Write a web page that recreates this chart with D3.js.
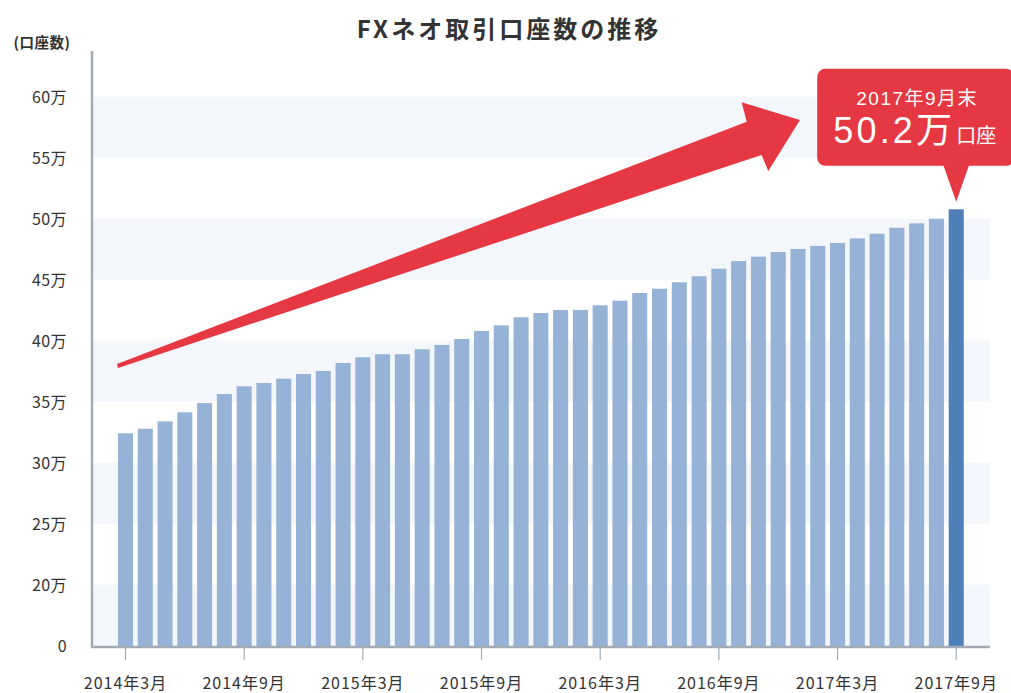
<!DOCTYPE html>
<html><head><meta charset="utf-8">
<script src="https://cdn.jsdelivr.net/npm/d3@7"></script>
<style>
body{margin:0;background:#fff;}
svg{display:block;font-family:"Noto Sans CJK JP","Noto Sans",sans-serif;}
</style></head>
<body><svg id="c" width="1011" height="693"></svg>
<script>
const categories = [
 "2014年3月","2014年4月","2014年5月","2014年6月","2014年7月","2014年8月",
 "2014年9月","2014年10月","2014年11月","2014年12月","2015年1月","2015年2月",
 "2015年3月","2015年4月","2015年5月","2015年6月","2015年7月","2015年8月",
 "2015年9月","2015年10月","2015年11月","2015年12月","2016年1月","2016年2月",
 "2016年3月","2016年4月","2016年5月","2016年6月","2016年7月","2016年8月",
 "2016年9月","2016年10月","2016年11月","2016年12月","2017年1月","2017年2月",
 "2017年3月","2017年4月","2017年5月","2017年6月","2017年7月","2017年8月",
 "2017年9月"];
// 口座数（万）
const accounts = [
 32.41,32.79,33.39,34.13,34.89,35.63,
 36.26,36.53,36.89,37.27,37.52,38.17,
 38.64,38.89,38.89,39.30,39.65,40.14,
 40.80,41.26,41.92,42.27,42.52,42.52,
 42.90,43.28,43.91,44.26,44.79,45.28,
 45.90,46.53,46.89,47.27,47.52,47.77,
 48.01,48.39,48.77,49.26,49.62,50.00,
 50.77];
const xTickLabels = ["2014年3月","2014年9月","2015年3月","2015年9月","2016年3月","2016年9月","2017年3月","2017年9月"];
// broken axis: the bottom tick (15) is labelled "0"
const yTickValues = [15,20,25,30,35,40,45,50,55,60];
const yTickLabels = ["0","20万","25万","30万","35万","40万","45万","50万","55万","60万"];
const title = "FXネオ取引口座数の推移";
const yUnit = "(口座数)";
const calloutDate = "2017年9月末";
const calloutValue = "50.2万";
const calloutUnit = "口座";
// arrow outline in (bar index, value) space
const arrowPts = [[-0.43,38.09],[31.41,57.95],[31.15,59.54],[34.10,58.09],[32.50,53.91],[32.16,55.22],[-0.38,37.77]];

const svg = d3.select("#c");
const x = d3.scaleBand().domain(categories).range([115.6, 966.1]).paddingInner(0.24).paddingOuter(0.12);
const y = d3.scaleLinear().domain([15, 60]).range([645.7, 96.7]);
const xIdx = d3.scaleLinear().domain([0, 1]).range([x(categories[0]) + x.bandwidth()/2, x(categories[0]) + x.bandwidth()/2 + x.step()]);

const plotL = 93, plotR = 990;
// bands
for (let k = 0; k < yTickValues.length - 1; k++) {
  if ((yTickValues.length - 2 - k) % 2 === 0) {
    svg.append("rect").attr("x", plotL).attr("width", plotR - plotL)
      .attr("y", y(yTickValues[k+1])).attr("height", y(yTickValues[k]) - y(yTickValues[k+1]))
      .attr("fill", "#f3f6fb");
  }
}
// bars
svg.append("g").selectAll("rect").data(accounts).join("rect")
  .attr("x", (d,i) => x(categories[i]))
  .attr("width", x.bandwidth())
  .attr("y", d => y(d))
  .attr("height", d => y(15) - y(d) + 1)
  .attr("fill", (d,i) => i === accounts.length - 1 ? "#4e7fb8" : "#96b3d7");

// y axis
const yAxis = d3.axisLeft(y).tickValues(yTickValues).tickFormat((d,i) => yTickLabels[i]).tickSize(0).tickPadding(25);
const gy = svg.append("g").attr("transform", `translate(${plotL-1},0)`).call(yAxis);
gy.select(".domain").remove();
gy.selectAll("text").attr("font-size", 16).attr("fill", "#333").attr("dy", "0.35em").attr("letter-spacing", "0.4px")
  .style("font-family", "'Noto Sans CJK JP',sans-serif");
svg.append("line").attr("x1", 92).attr("x2", 92).attr("y1", 51).attr("y2", 648)
  .attr("stroke", "#a3aab4").attr("stroke-width", 2.5);

// x axis
const xAxis = d3.axisBottom(x).tickValues(xTickLabels).tickSize(13).tickPadding(18).tickSizeOuter(0);
const gx = svg.append("g").attr("transform", `translate(0,647)`).call(xAxis);
gx.select(".domain").remove();
gx.selectAll(".tick line").attr("stroke", "#a3aab4").attr("stroke-width", 1.2);
gx.selectAll("text").attr("font-size", 16).attr("fill", "#333").attr("letter-spacing", "1px")
  .style("font-family", "'Noto Sans CJK JP',sans-serif");
svg.append("line").attr("x1", 91).attr("x2", plotR).attr("y1", 647).attr("y2", 647)
  .attr("stroke", "#a3aab4").attr("stroke-width", 2.5);

// title
svg.append("text").attr("x", 509).attr("y", 38).attr("text-anchor", "middle")
  .attr("font-size", 24).attr("font-weight", 700).attr("fill", "#333").attr("letter-spacing", "3px").text(title);
svg.append("text").attr("x", 42).attr("y", 48).attr("text-anchor", "middle")
  .attr("font-size", 14.5).attr("font-weight", 700).attr("fill", "#333").attr("letter-spacing", "0.5px").text(yUnit);

// arrow
const red = "#e63843";
svg.append("path").attr("d", d3.line().x(p => xIdx(p[0])).y(p => y(p[1]))(arrowPts) + "Z").attr("fill", red);

// callout anchored to the last bar
const lastX = x(categories[categories.length-1]) + x.bandwidth()/2;
const tipY = y(accounts[accounts.length-1]) - 7.5;
const boxB = tipY - 36, boxT = boxB - 97;
const boxL = lastX - 139, boxR = lastX + 58;
const cf = "'Liberation Sans','Noto Sans CJK JP',sans-serif";
const g = svg.append("g");
g.append("rect").attr("x", boxL).attr("y", boxT).attr("width", boxR - boxL).attr("height", boxB - boxT)
  .attr("rx", 8).attr("fill", red);
g.append("path").attr("d", `M${lastX-13},${boxB-1}L${lastX+13},${boxB-1}L${lastX},${tipY}Z`).attr("fill", red);
g.append("text").attr("x", lastX - 39).attr("y", boxT + 36).attr("text-anchor", "middle")
  .style("font-family", cf)
  .attr("font-size", 19).attr("fill", "#fff").attr("letter-spacing", "1.5px").text(calloutDate);
const t = g.append("text").attr("x", boxL + 16).attr("y", boxT + 74).attr("fill", "#fff").style("font-family", cf);
t.append("tspan").attr("font-size", 36).attr("letter-spacing", "3.2px").text(calloutValue);
t.append("tspan").attr("font-size", 20).attr("dx", 1).text(calloutUnit);
</script>
</body></html>
